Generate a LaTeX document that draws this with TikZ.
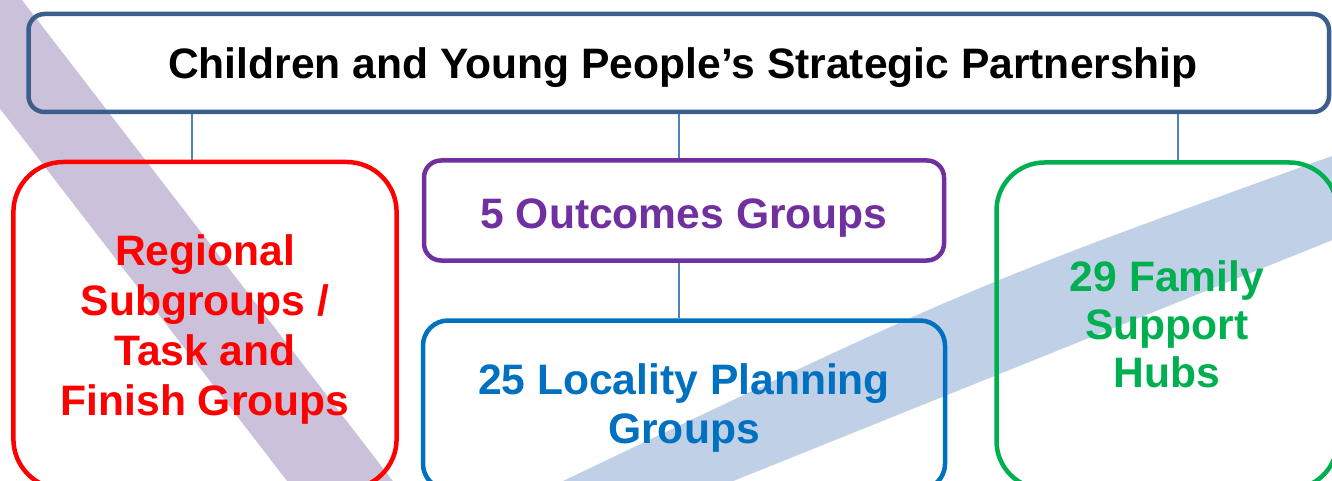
\documentclass[tikz,border=0pt]{standalone}
\usepackage{fontspec}
\setmainfont{Liberation Sans}

\definecolor{hdrblue}{HTML}{3B5E8C}
\definecolor{linkblue}{HTML}{4F81BD}
\definecolor{bandlilac}{HTML}{CCC1DA}
\definecolor{bandblue}{HTML}{C0D1E7}
\definecolor{grpred}{HTML}{FF0000}
\definecolor{grppurple}{HTML}{7030A0}
\definecolor{grpblue}{HTML}{0070C0}
\definecolor{grpgreen}{HTML}{00B050}

\pgfdeclarelayer{bands}
\pgfdeclarelayer{links}
\pgfsetlayers{bands,links,main}

\begin{document}
\begin{tikzpicture}[x=1pt,y=-1pt,
  box/.style={draw, line width=4.5pt, inner sep=0pt, rectangle},
  link/.style={draw=linkblue, line width=1.5pt},
  lbl/.style={font=\bfseries\fontsize{42.6}{49}\selectfont, align=center, anchor=base, inner sep=0pt}]

\useasboundingbox (0,0) rectangle (1332,481);

% group boxes
\node[box, draw=hdrblue, rounded corners=16pt, minimum width=1300.5pt, minimum height=98pt] (cyp) at (678.75,63) {};
\node[box, draw=grpred, rounded corners=50pt, minimum width=383.2pt, minimum height=327pt] (regional) at (205,325.5) {};
\node[box, draw=grppurple, rounded corners=17pt, minimum width=520pt, minimum height=100pt] (outcomes) at (684,210.5) {};
\node[box, draw=grpblue, rounded corners=25pt, minimum width=522pt, minimum height=168.5pt] (locality) at (684,404.75) {};
\node[box, draw=grpgreen, rounded corners=48pt, minimum width=341pt, minimum height=326.5pt] (hubs) at (1167,325.75) {};

% labels (multi-line labels are placed by their last baseline)
\node[lbl] (cyptext) at (683,79) {Children and Young People’s Strategic Partnership};
\node[lbl, text=grpred, font=\bfseries\fontsize{42.6}{50}\selectfont] (regionaltext) at (205,415) {Regional\\Subgroups /\\Task and\\Finish Groups};
\node[lbl, text=grppurple] (outcomestext) at (684,228) {5 Outcomes Groups};
\node[lbl, text=grpblue] (localitytext) at (684,443) {25 Locality Planning\\Groups};
\node[lbl, text=grpgreen, font=\bfseries\fontsize{42.6}{48}\selectfont] (hubstext) at (1167,387) {29 Family\\Support\\Hubs};

% connector columns
\coordinate (xa) at (192,0);
\coordinate (xb) at (679,0);
\coordinate (xc) at (1178,0);

\begin{pgfonlayer}{links}
\draw[link] (cyp.south -| xa) -- (regional.north -| xa);
\draw[link] (cyp.south -| xb) -- (outcomes.north -| xb);
\draw[link] (outcomes.south -| xb) -- (locality.north -| xb);
\draw[link] (cyp.south -| xc) -- (hubs.north -| xc);
\end{pgfonlayer}

% background with the two diagonal bands
\begin{pgfonlayer}{bands}
\fill[white] (0,0) rectangle (1332,481);
\fill[bandlilac] (14.3,-10) -- (407.5,500) -- (301.7,500) -- (-91.5,-10) -- cycle;
\fill[bandblue] (563,500) -- (563,481) .. controls (972.5,285.5) .. (1332,156)
  -- (1350,149) -- (1350,233) -- (686,500) -- cycle;
\end{pgfonlayer}
\end{tikzpicture}
\end{document}
